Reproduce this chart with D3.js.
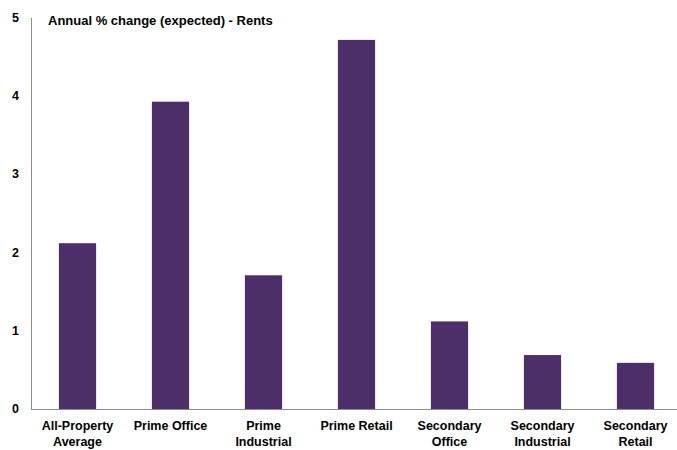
<!DOCTYPE html>
<html>
<head>
<meta charset="UTF-8">
<script src="https://cdn.jsdelivr.net/npm/d3@7"></script>
<style>
  body { margin: 0; background: #fff; }
  text { font-family: "Liberation Sans", Arial, sans-serif; font-weight: bold; fill: #000; }
</style>
</head>
<body>
<svg id="chart" width="677" height="450"></svg>
<script>
// categories (lines of each label) and expected annual rent change
const categories = ["All-Property Average", "Prime Office", "Prime Industrial", "Prime Retail",
                    "Secondary Office", "Secondary Industrial", "Secondary Retail"];
const labelLines = [["All-Property", "Average"], ["Prime Office"], ["Prime", "Industrial"], ["Prime Retail"],
                    ["Secondary", "Office"], ["Secondary", "Industrial"], ["Secondary", "Retail"]];
const rents = [2.12, 3.93, 1.71, 4.72, 1.12, 0.69, 0.59];
const yTicks = [0, 1, 2, 3, 4, 5];

const svg = d3.select("#chart");
const m = { left: 31, right: 682, top: 18, bottom: 409 };

let x = d3.scaleBand().domain(categories).range([m.left, m.right]).paddingInner(0.6).paddingOuter(0.3);
let y = d3.scaleLinear().domain([0, 5]).range([m.bottom, m.top]);

// bars
svg.selectAll("rect.bar").data(rents).join("rect")
    .attr("class", "bar")
    .attr("x", (d, i) => x(categories[i]))
    .attr("width", x.bandwidth())
    .attr("y", d => y(d))
    .attr("height", d => y(0) - y(d))
    .attr("fill", "#4c2e68");

// y axis line + labels
svg.append("line").attr("x1", m.left + 0.5).attr("x2", m.left + 0.5).attr("y1", m.top).attr("y2", m.bottom)
    .attr("stroke", "#8c8c8c");
svg.selectAll("text.ytick").data(yTicks).join("text")
    .attr("class", "ytick")
    .attr("x", 19).attr("y", d => y(d) + 4)
    .attr("text-anchor", "end")
    .style("font-size", "12.5px")
    .text(d => d);

// x axis line
svg.append("line").attr("x1", m.left).attr("x2", 677).attr("y1", m.bottom + 0.5).attr("y2", m.bottom + 0.5)
    .attr("stroke", "#8c8c8c");

// category labels
let lbl = svg.selectAll("text.xlab").data(labelLines).join("text")
    .attr("class", "xlab")
    .attr("text-anchor", "middle")
    .style("font-size", "12.5px")
    .attr("transform", (d, i) => `translate(${x(categories[i]) + x.bandwidth() / 2},${m.bottom + 21})`);
lbl.selectAll("tspan").data(d => d).join("tspan")
    .attr("x", 0).attr("dy", (d, j) => j === 0 ? 0 : 16)
    .text(d => d);

// title
svg.append("text").attr("x", 48).attr("y", 25)
    .style("font-size", "13px")
    .text("Annual % change (expected) - Rents");
</script>
</body>
</html>
